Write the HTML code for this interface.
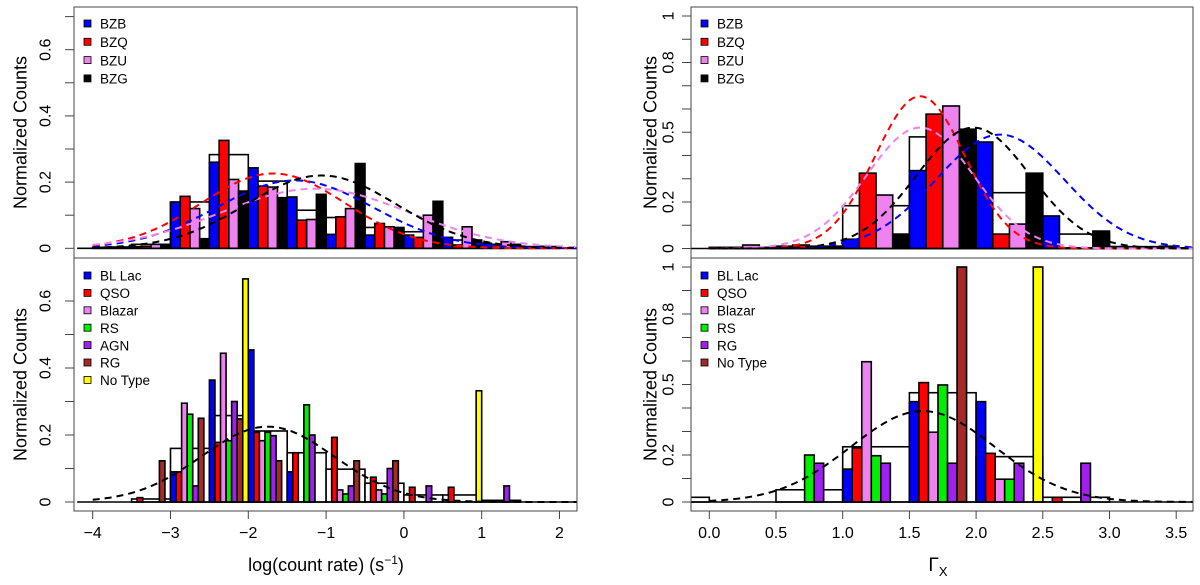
<!DOCTYPE html>
<html><head><meta charset="utf-8"><style>
html,body{margin:0;padding:0;background:#fff;}
svg{display:block;font-family:"Liberation Sans",Arial,sans-serif;}
</style></head>
<body>
<svg id="chart" width="1200" height="585" viewBox="0 0 1200 585" xmlns="http://www.w3.org/2000/svg"></svg>
<script>
// ---- data ----
const colorsTop = ["#0000ff","#ff0000","#ee82ee","#000000"];
const colorsBot = ["#0000ff","#ff0000","#ee82ee","#00ee00","#a020f0","#a52a2a","#ffff00"];
const legendTopLabels = ["BZB","BZQ","BZU","BZG"];
const legendLBLabels = ["BL Lac","QSO","Blazar","RS","AGN","RG","No Type"];
const legendRBLabels = ["BL Lac","QSO","Blazar","RS","RG","No Type"];
const legendRBColors = ["#0000ff","#ff0000","#ee82ee","#00ee00","#a020f0","#a52a2a"];

// left top: slots of 0.125 starting at -4, colour cycles of 4
const ltSlots = [0.003,0.002,0.004,0.004,0.005,0.006,0.012,0.01,
 0.139,0.157,0.12,0.029, 0.26,0.326,0.208,0.173, 0.243,0.188,0.185,0.153,
 0.155,0.085,0.087,0.163, 0.042,0.095,0.12,0.256, 0.04,0.075,0.065,0.06,
 0.04,0.033,0.1,0.142, 0.033,0.01,0.065,0.022, 0.015,0.01,0.02,0.008,
 0.005,0.004,0.006,0.005];
const ltWhite = [0.003,0.012,0.14,0.283,0.203,0.115,0.093,0.063,0.05,0.025,0.012,0.005];
const ltGauss = [[-1.4,1.0,0.205,"#0000ff"],[-1.68,0.92,0.226,"#ff0000"],[-1.14,1.2,0.18,"#ee82ee"],[-1.06,0.96,0.22,"#000000"]];

// left bottom: slots of 0.5/7 starting at -4, colour cycles of 7
const lbSlots = [0,0,0,0,0,0,0, 0,0.013,0,0,0,0.123,0,
 0.09,0.09,0.295,0.262,0.048,0.25,0,
 0.364,0.178,0.444,0.183,0.3,0.248,0.666,
 0.454,0.208,0.183,0.208,0.198,0.123,0,
 0.09,0.147,0,0.29,0.2,0,0,
 0,0.193,0.036,0.024,0.048,0.123,0,
 0,0.074,0.036,0.024,0.1,0.123,0,
 0,0.044,0,0,0.048,0,0,
 0,0.044,0,0,0,0,0.332,
 0,0,0,0,0.048,0,0];
const lbWhite = [0,0.009,0.16,0.258,0.212,0.147,0.098,0.056,0.021,0.021,0.005,0];
const lbGauss = [[-1.75,0.85,0.225,"#000000"]];

// right top: slots of 0.125 starting at 0
const rtSlots = [0.003,0.003,0.015,0.003, 0.008,0.015,0.005,0.005,
 0.04,0.324,0.23,0.062, 0.335,0.578,0.613,0.513, 0.458,0.062,0.105,0.324,
 0.14,0.003,0.003,0.075, 0.008,0.003,0.003,0.01, 0.003,0.003,0.003,0.003];
const rtWhite = [0.005,0.01,0.184,0.48,0.24,0.062,0.008,0.003];
const rtGauss = [[2.18,0.48,0.49,"#0000ff"],[1.58,0.337,0.655,"#ff0000"],[1.58,0.40,0.52,"#ee82ee"],[1.98,0.425,0.52,"#000000"]];

// right bottom: slots of 0.5/7 starting at 0
const rbSlots = [0,0,0,0,0,0,0, 0,0,0,0.2,0.165,0,0,
 0.14,0.23,0.597,0.197,0.165,0,0,
 0.427,0.508,0.297,0.498,0.165,1.0,0,
 0.427,0.207,0.097,0.097,0.165,0,1.0,
 0,0.02,0,0,0.165,0,0];
const rbWhite = [0.02,0,0.052,0.235,0.465,0.193,0.02,0];
const rbGauss = [[1.6,0.54,0.387,"#000000"]];

const svg = document.getElementById('chart');
const NS = "http://www.w3.org/2000/svg";
function mk(tag, attrs, parent){const e=document.createElementNS(NS,tag);for(const k in attrs)e.setAttribute(k,attrs[k]);(parent||svg).appendChild(e);return e;}

const panels = [
 {id:"lt", box:[74,7,577,258], x0:92.7, xmin:-4, xs:77.8, y0:248.3, ys:331, slots:ltSlots, sw:0.125, cols:colorsTop, white:ltWhite, wstart:-4, gauss:ltGauss, yt:[0,0.1,0.2,0.3,0.4,0.5,0.6,0.7], yl:[0,0.2,0.4,0.6], ylab:x=>String(x), lx:45, tx:20, leg:legendTopLabels, legc:colorsTop, legy:24, legdy:18.3},
 {id:"lb", box:[74,258,577,511], x0:92.7, xmin:-4, xs:77.8, y0:502, ys:335, slots:lbSlots, sw:0.5/7, cols:colorsBot, white:lbWhite, wstart:-4, gauss:lbGauss, yt:[0,0.1,0.2,0.3,0.4,0.5,0.6], yl:[0,0.2,0.4,0.6], lx:45, tx:20, leg:legendLBLabels, legc:colorsBot, legy:276, legdy:17.4,
  xt:[-4,-3,-2,-1,0,1,2], xlab:v=>String(v)},
 {id:"rt", box:[691,7,1193,258], x0:709.3, xmin:0, xs:133.4, y0:248.5, ys:232.5, slots:rtSlots, sw:0.125, cols:colorsTop, white:rtWhite, wstart:0, gauss:rtGauss, yt:[0,0.1,0.2,0.3,0.4,0.5,0.6,0.7,0.8,0.9,1], yl:[0,0.2,0.5,0.8,1], lx:668, tx:650, leg:legendTopLabels, legc:colorsTop, legy:24, legdy:18.3},
 {id:"rb", box:[691,258,1193,511], x0:709.3, xmin:0, xs:133.4, y0:502, ys:235, slots:rbSlots, sw:0.5/7, cols:colorsBot, white:rbWhite, wstart:-0.5, gauss:rbGauss, yt:[0,0.1,0.2,0.3,0.4,0.5,0.6,0.7,0.8,0.9,1], yl:[0,0.2,0.5,0.8,1], lx:668, tx:650, leg:legendRBLabels, legc:legendRBColors, legy:276, legdy:17.4,
  xt:[0,0.5,1,1.5,2,2.5,3,3.5], xlab:v=>v.toFixed(1)}
];

panels.forEach(p=>{
 const X = v=>p.x0+(v-p.xmin)*p.xs;
 const Y = v=>p.y0-v*p.ys;
 const [bx0,by0,bx1,by1]=p.box;
 const defs = mk('defs',{});
 const cp = mk('clipPath',{id:'clip-'+p.id},defs);
 mk('rect',{x:bx0,y:by0,width:bx1-bx0,height:by1-by0},cp);
 const g = mk('g',{'clip-path':'url(#clip-'+p.id+')'});
 
 
 // white total histogram
 p.white.forEach((v,i)=>{
  const a=p.wstart+i*0.5;
  const r=mk('rect',{x:X(a),y:Y(v),width:0.5*p.xs,height:Math.max(0,v*p.ys),fill:'#fff',stroke:'#000','stroke-width':1.6},g);
  
  
 });
 // coloured bars
 const n=p.cols.length;
 p.slots.forEach((v,i)=>{
  if(v<=0) return;
  const a=(p.id[0]==='l'?-4:0)+i*p.sw;
  const r=mk('rect',{x:X(a),y:Y(v),width:p.sw*p.xs,height:v*p.ys,fill:p.cols[i%n],stroke:'#000','stroke-width':1.6},g);
  
  
 });
 // baseline
 mk('line',{x1:X(p.xmin-0.2)+0,y1:p.y0,x2:bx1,y2:p.y0,stroke:'#000','stroke-width':1.6},g);
 // gaussian fits
 p.gauss.forEach((gs,k)=>{
  const [mu,s,amp,c]=gs; let d='';
  for(let t=0;t<=200;t++){const v=p.xmin+(bx1-p.x0)/p.xs*t/200;
   const yy=amp*Math.exp(-((v-mu)**2)/(2*s*s));
   d+=(t?'L':'M')+X(v).toFixed(1)+','+Y(yy).toFixed(1);}
  const pa=mk('path',{d:d,fill:'none',stroke:c,'stroke-width':2,'stroke-dasharray':'7,5'},g);
  
  
 });
 // box
 const bx=mk('rect',{x:bx0,y:by0,width:bx1-bx0,height:by1-by0,fill:'none',stroke:'#444','stroke-width':1});
 
 
 // y ticks
 p.yt.forEach(v=>{mk('line',{x1:bx0-9,y1:Y(v),x2:bx0,y2:Y(v),stroke:'#444','stroke-width':1});});
 p.yl.forEach(v=>{
  const t=mk('text',{x:p.lx,y:Y(v),'font-size':16,'text-anchor':'middle',transform:'rotate(-90 '+p.lx+' '+Y(v)+')',dy:'0.35em',fill:'#000'});
  t.textContent=String(v);
  
  
 });
 const cy=(by0+by1)/2;
 const yt=mk('text',{x:p.tx,y:cy,'font-size':18,'text-anchor':'middle',transform:'rotate(-90 '+p.tx+' '+cy+')',dy:'0.35em'});
 yt.textContent='Normalized Counts';
 
 
 // x ticks
 if(p.xt){
  p.xt.forEach(v=>{
   mk('line',{x1:X(v),y1:by1,x2:X(v),y2:by1+8,stroke:'#444','stroke-width':1});
   const t=mk('text',{x:X(v),y:538,'font-size':16,'text-anchor':'middle'});
   t.textContent=p.xlab(v).replace('-','\u2212');
   
   
  });
 }
 // legend
 const lg=mk('g',{});
 
 
 p.leg.forEach((lab,i)=>{
  const yy=p.legy+i*p.legdy;
  mk('rect',{x:bx0+10,y:yy-4,width:7,height:7,fill:p.legc[i],stroke:'#000','stroke-width':0.8},lg);
  const t=mk('text',{x:bx0+26,y:yy,'font-size':13.5,dy:'0.35em'},lg);
  t.textContent=lab;
  
  
 });
});
const xt1=mk('text',{x:326,y:571,'font-size':18,'text-anchor':'middle'});
xt1.innerHTML='log(count rate) (s<tspan dy="-7" font-size="12">\u22121</tspan><tspan dy="7">)</tspan>';


const xt2=mk('text',{x:938,y:571,'font-size':19,'text-anchor':'middle'});
xt2.innerHTML='\u0393<tspan dy="5" font-size="13">X</tspan>';


</script>
</body></html>
